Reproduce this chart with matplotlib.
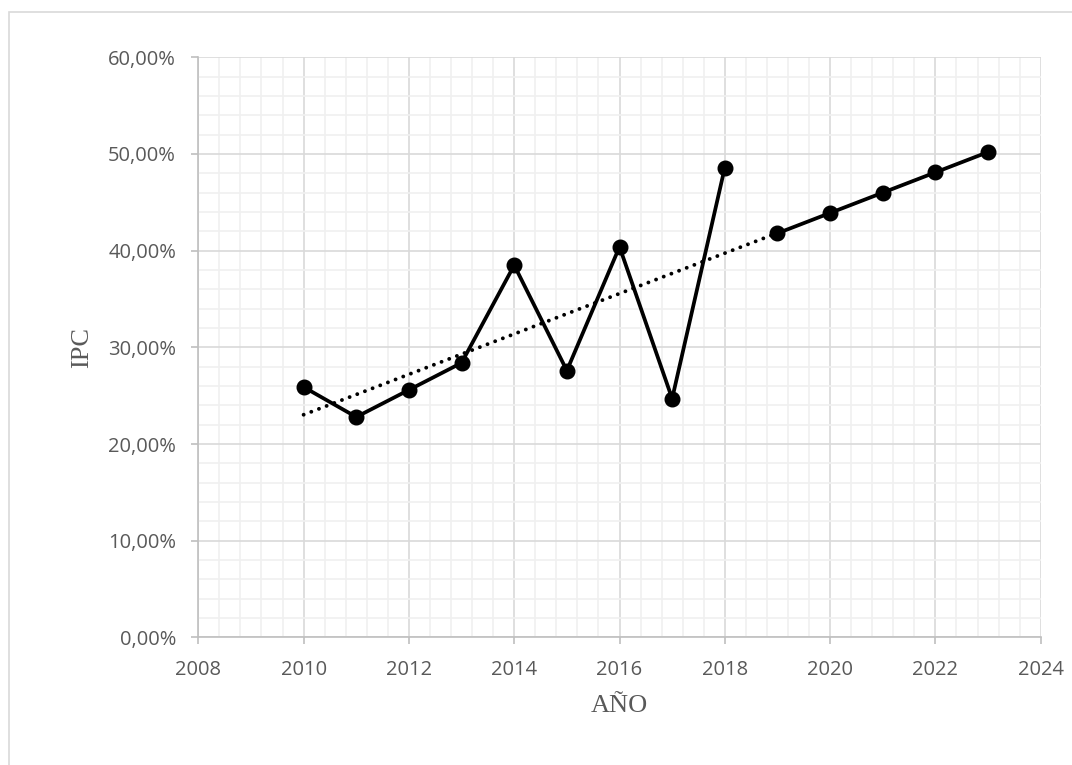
import matplotlib
matplotlib.use("Agg")
import matplotlib.pyplot as plt
from matplotlib.patches import Rectangle
from matplotlib.ticker import MultipleLocator, FuncFormatter
import numpy as np

# observed IPC, 2010-2018
years_hist = [2010, 2011, 2012, 2013, 2014, 2015, 2016, 2017, 2018]
ipc_hist = [25.9, 22.8, 25.6, 28.4, 38.5, 27.6, 40.4, 24.7, 48.6]

# projected IPC, 2019-2023
years_proj = [2019, 2020, 2021, 2022, 2023]
ipc_proj = [41.8, 43.9, 46.0, 48.1, 50.2]

grey_text = "#595959"
major_grid = "#d9d9d9"
minor_grid = "#f0f0f0"

fig = plt.figure(figsize=(10.72, 7.65), dpi=100)
ax = fig.add_axes([0.185, 0.1667, 0.7858, 0.7584])

# outer chart border
fig.patches.append(Rectangle((9 / 1072, -0.1), 1.2, 1.1 - 12 / 765,
                             transform=fig.transFigure, fill=False,
                             edgecolor="#d9d9d9", linewidth=1.2))

# linear trend over the observed years, extended one year
coef = np.polyfit(years_hist, ipc_hist, 1)
trend_x = np.array([years_hist[0], years_proj[0]])
ax.plot(trend_x, np.polyval(coef, trend_x), color="black", lw=2.8,
        linestyle=(0, (0.01, 2.1)), dash_capstyle="round", zorder=3)

ax.plot(years_hist, ipc_hist, color="black", lw=2.7, marker="o",
        markersize=10.5, zorder=4)
ax.plot(years_proj, ipc_proj, color="black", lw=2.7, marker="o",
        markersize=10.5, zorder=4)

ax.set_xlim(2008, 2024)
ax.set_ylim(0, 60)
ax.xaxis.set_major_locator(MultipleLocator(2))
ax.xaxis.set_minor_locator(MultipleLocator(0.4))
ax.yaxis.set_major_locator(MultipleLocator(10))
ax.yaxis.set_minor_locator(MultipleLocator(2))
ax.yaxis.set_major_formatter(FuncFormatter(lambda v, p: f"{v:.2f}%".replace(".", ",")))

ax.grid(which="major", color=major_grid, lw=1.2, zorder=0)
ax.grid(which="minor", color=minor_grid, lw=1.2, zorder=0)
ax.set_axisbelow(True)

for side in ["top", "right"]:
    ax.spines[side].set_visible(False)
for side in ["left", "bottom"]:
    ax.spines[side].set_color("#bfbfbf")
    ax.spines[side].set_linewidth(1.2)

ax.tick_params(which="major", length=5, width=1.2, color="#bfbfbf",
               labelsize=14.5, labelcolor=grey_text, pad=11)
ax.tick_params(which="minor", length=0)
for lbl in ax.get_xticklabels() + ax.get_yticklabels():
    lbl.set_fontfamily("Open Sans")

ax.set_xlabel("AÑO", fontfamily="Liberation Serif", fontsize=19,
              color=grey_text, labelpad=11)
ax.set_ylabel("IPC", fontfamily="Liberation Serif", fontsize=19,
              color=grey_text, labelpad=11)

fig.savefig("out.png", dpi=100)
